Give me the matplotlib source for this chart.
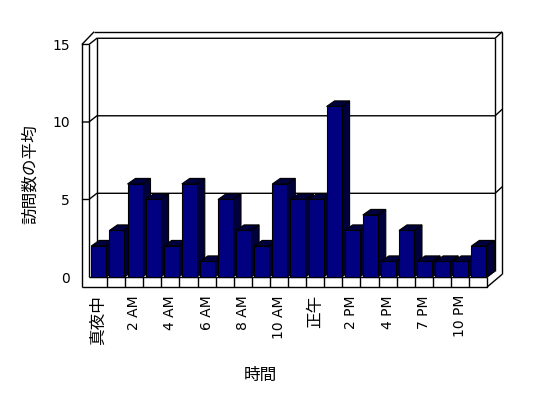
import matplotlib
matplotlib.use("Agg")
import matplotlib.pyplot as plt
from matplotlib.patches import Polygon

plt.rcParams['font.family'] = ['DejaVu Sans', 'Noto Sans CJK JP']

hours = ['真夜中', '1 AM', '2 AM', '3 AM', '4 AM', '5 AM', '6 AM', '7 AM',
         '8 AM', '9 AM', '10 AM', '11 AM', '正午', '1 PM', '2 PM', '3 PM',
         '4 PM', '5 PM', '7 PM', '9 PM', '10 PM', '11 PM']
visits = [2, 3, 6, 5, 2, 6, 1, 5, 3, 2, 6, 5, 5, 11, 3, 4, 1, 3, 1, 1, 1, 2]
yticks = [0, 5, 10, 15]
ylabel = '訪問数の平均'
xlabel = '時間'

W, H = 548, 398
fig = plt.figure(figsize=(W / 100, H / 100), dpi=100)
# axes box in pixels: left 82, right 500, top 33, bottom 287
ax = fig.add_axes([82 / W, (H - 287) / H, (500 - 82) / W, (287 - 33) / H])
n = len(visits)
ymax = yticks[-1]
ax.set_xlim(-0.884, 22.21)
ax.set_ylim(-0.645, 15.74)
for s in ax.spines.values():
    s.set_visible(False)

# depth parameters (data units)
DX, DY = 0.44, 0.40      # depth of front plane -> back plane
DX2, DY2 = 0.39, 0.42    # back wall thickness
TX = 0.39                # left wall thickness
FT = 0.645               # floor thickness
BDX, BDY = 0.44, 0.36    # bar depth

lk = dict(color='black', lw=1, clip_on=False, zorder=1, solid_capstyle='butt')
L = -0.5
R = n - 0.5

# floor front face
ax.plot([L - TX, R, R], [-FT, -FT, 0], **lk)
ax.plot([L, R], [0, 0], **lk)
for k in range(1, n):
    ax.plot([L + k, L + k], [-FT, 0], **lk)
# floor right side
ax.plot([R, R + DX + DX2], [-FT, -FT + DY + DY2], **lk)
ax.plot([R, R + DX], [0, DY], **lk)

# left wall
ax.plot([L - TX, L - TX], [-FT, ymax], **lk)
ax.plot([L, L], [0, ymax], **lk)
ax.plot([L - TX, L - TX + DX + DX2 * 0.6], [ymax, ymax + DY + DY2], **lk)
# back wall inner
ax.plot([L + DX, L + DX], [DY, ymax + DY], **lk)
ax.plot([R + DX, R + DX], [DY, ymax + DY], **lk)
# back wall outer
ax.plot([L - TX + DX + DX2 * 0.6, R + DX + DX2], [ymax + DY + DY2] * 2, **lk)
ax.plot([R + DX + DX2] * 2, [-FT + DY + DY2, ymax + DY + DY2], **lk)

# grid lines / ticks
for v in yticks[1:]:
    ax.plot([L - TX, L, L + DX, R + DX, R + DX + DX2],
            [v, v, v + DY, v + DY, v + DY + DY2], **lk)

# bars
front = '#000080'
shade = '#00003c'
for i, v in enumerate(visits):
    x0 = i - 0.37
    w = 0.83
    z = 2 + i * 0.01
    side = Polygon([(x0 + w, 0), (x0 + w + BDX, BDY), (x0 + w + BDX, v + BDY),
                    (x0 + w, v)], closed=True, fc=shade, ec='black', lw=0.8, zorder=z)
    top = Polygon([(x0, v), (x0 + BDX, v + BDY), (x0 + w + BDX, v + BDY),
                   (x0 + w, v)], closed=True, fc=shade, ec='black', lw=0.8, zorder=z)
    ax.add_patch(side)
    ax.add_patch(top)
bars = ax.bar([i - 0.37 for i in range(n)], visits, width=0.83, align='edge',
              color=front, edgecolor='black', linewidth=0.8, zorder=2.5)
for i, b in enumerate(bars):
    b.set_zorder(2 + i * 0.01 + 0.005)

ax.set_yticks(yticks)
ax.set_yticklabels([str(t) for t in yticks], fontsize=10)
ax.set_xticks(list(range(0, n, 2)))
ax.set_xticklabels(hours[::2], rotation=90, fontsize=10, va='top', ha='center')
for t in ax.get_xticklabels():
    if any(ord(c) > 0x3000 for c in t.get_text()):
        t.set_fontsize(12)
ax.tick_params(axis='y', length=0, pad=8.6)
ax.tick_params(axis='x', length=0, pad=5.8)

ax.set_xlabel(xlabel, fontsize=12)
ax.xaxis.label.set_va('center')
ax.xaxis.set_label_coords((260 - 82) / 418, (287 - 375) / 254)
ax.set_ylabel(ylabel, fontsize=12)
ax.yaxis.label.set_va('center')
ax.yaxis.set_label_coords((30 - 82) / 418, (287 - 174) / 254)

fig.savefig('out.png', dpi=100)
